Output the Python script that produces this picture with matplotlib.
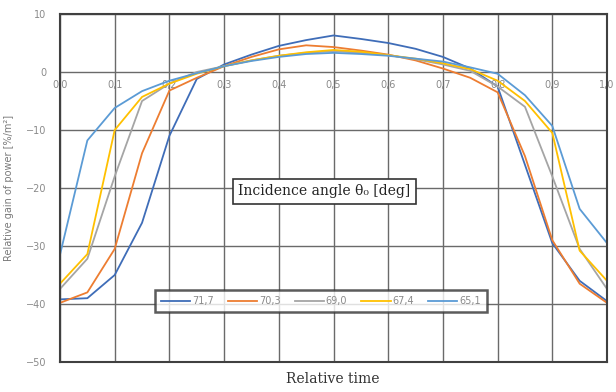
import matplotlib.pyplot as plt

# relative time axis, sampled every 0.05
t = [0.00, 0.05, 0.10, 0.15, 0.20, 0.25, 0.30, 0.35, 0.40, 0.45, 0.50,
     0.55, 0.60, 0.65, 0.70, 0.75, 0.80, 0.85, 0.90, 0.95, 1.00]

# relative gain of power [%/m2] for each incidence angle
g_717 = [-39.2, -39.0, -35.0, -26.0, -11.0, -1.2, 1.3, 3.0, 4.5, 5.5, 6.3,
         5.7, 5.0, 4.0, 2.6, 0.6, -2.5, -16.0, -29.5, -36.0, -39.5]
g_703 = [-39.8, -38.0, -30.5, -14.0, -3.2, -1.0, 1.0, 2.6, 3.9, 4.6, 4.3,
         3.7, 3.0, 2.0, 0.6, -1.0, -3.5, -14.5, -29.0, -36.5, -39.8]
g_690 = [-37.4, -32.2, -18.0, -5.0, -2.0, 0.0, 1.0, 2.0, 2.8, 3.3, 3.6,
         3.3, 2.9, 2.2, 1.3, 0.2, -2.5, -6.0, -18.0, -30.5, -37.4]
g_674 = [-36.5, -31.4, -10.0, -4.3, -2.0, -0.3, 1.0, 2.0, 2.8, 3.4, 3.8,
         3.5, 2.9, 2.3, 1.5, 0.5, -1.5, -5.0, -10.5, -30.8, -36.0]
g_651 = [-31.5, -11.8, -6.2, -3.3, -1.5, -0.2, 1.0, 1.9, 2.6, 3.1, 3.3,
         3.1, 2.8, 2.3, 1.8, 0.8, -0.3, -4.0, -9.3, -23.6, -29.5]

angles = ['71,7', '70,3', '69,0', '67,4', '65,1']
series = [g_717, g_703, g_690, g_674, g_651]
colors = ['#3F6DB8', '#ED7D31', '#A5A5A5', '#FFC000', '#5B9BD5']

x_ticks = [0.0, 0.1, 0.2, 0.3, 0.4, 0.5, 0.6, 0.7, 0.8, 0.9, 1.0]
y_ticks = [10, 0, -10, -20, -30, -40, -50]

fig = plt.figure(figsize=(6.16, 3.92), dpi=100)
ax = fig.add_axes([0.0974, 0.0765, 0.8880, 0.8878])

for name, vals, c in zip(angles, series, colors):
    ax.plot(t, vals, color=c, lw=1.3, label=name)

ax.set_xlim(0, 1)
ax.set_ylim(-50, 10)
ax.set_xticks(x_ticks)
ax.set_xticklabels([f'{v:.1f}'.replace('.', ',') for v in x_ticks])
ax.set_yticks(y_ticks)
ax.grid(True, color='#6a6a6a', lw=1.0)
ax.set_axisbelow(True)

# x tick labels sit just under the zero line
ax.spines['bottom'].set_position(('data', 0))
ax.spines['bottom'].set_visible(False)
ax.axhline(-50, color='#404040', lw=1.5, clip_on=False)
for s in ['top', 'right', 'left']:
    ax.spines[s].set_color('#404040')
    ax.spines[s].set_linewidth(1.5)

ax.tick_params(axis='x', length=0, pad=6, labelsize=7, labelcolor='#8a8a8a')
ax.tick_params(axis='y', length=0, pad=10, labelsize=7, labelcolor='#8a8a8a')

ax.set_ylabel('Relative gain of power [%/m²]', fontsize=7, color='#7a7a7a',
              labelpad=2)
ax.yaxis.set_label_coords(-0.085, 0.5)
fig.text(0.54, 0.015, 'Relative time', family='serif', fontsize=10,
         color='#333333', ha='center', va='bottom')

ax.text(0.483, 0.49, 'Incidence angle θ\u2080 [deg]', transform=ax.transAxes,
        family='serif', fontsize=10, color='#222222', ha='center', va='center',
        bbox=dict(boxstyle='square,pad=0.4', fc='white', ec='#333333', lw=1.2))

leg = ax.legend(loc='center', bbox_to_anchor=(0.477, 0.175), ncol=5, fontsize=7,
                frameon=True, fancybox=False, handlelength=3.0,
                columnspacing=1.45, handletextpad=0.2, borderpad=0.6)
leg.get_frame().set_edgecolor('#333333')
leg.get_frame().set_linewidth(1.8)
for txt in leg.get_texts():
    txt.set_color('#8a8a8a')

fig.savefig('out.png', dpi=100)
